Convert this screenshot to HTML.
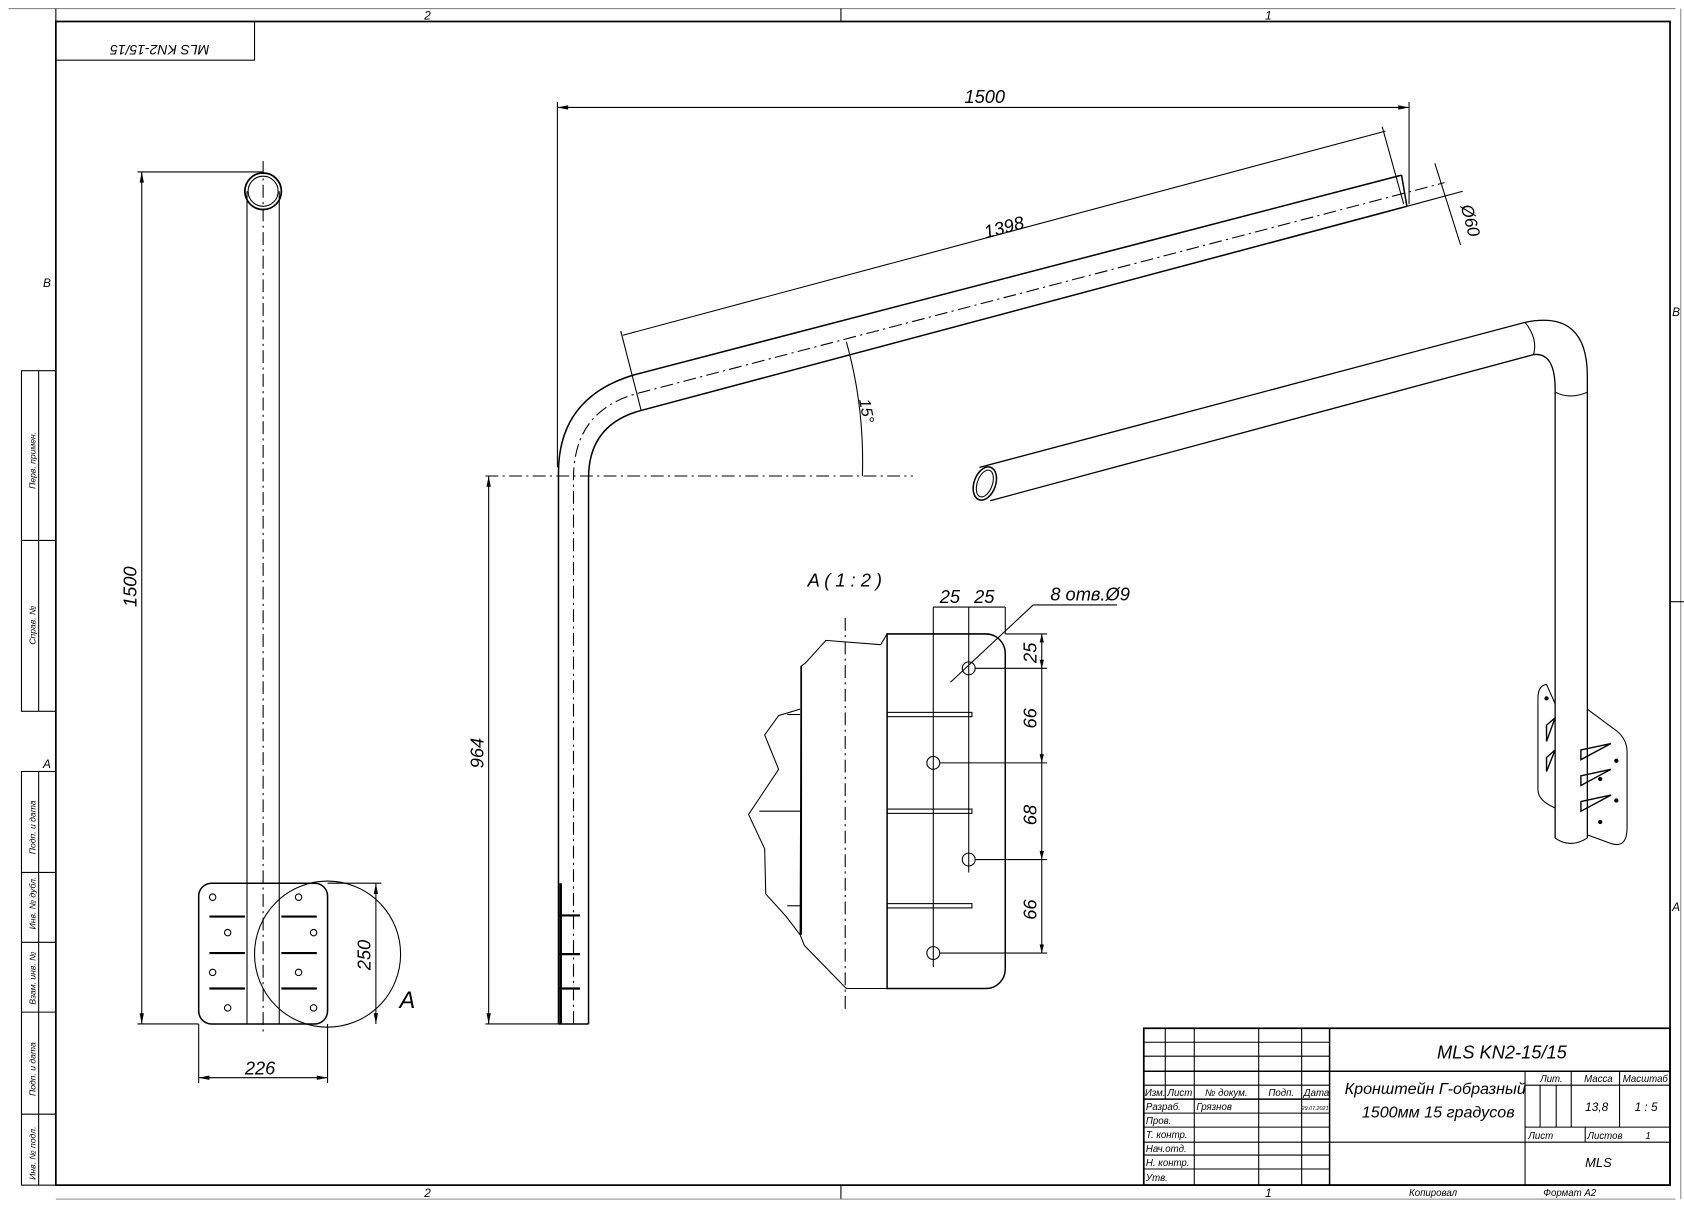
<!DOCTYPE html>
<html><head><meta charset="utf-8"><style>
html,body{margin:0;padding:0;background:#fff}
svg{display:block}
text{font-family:"Liberation Sans","DejaVu Sans",sans-serif;font-style:italic;fill:#000}
</style></head><body>
<svg width="1684" height="1212" viewBox="0 0 1568 1128" preserveAspectRatio="none" xmlns="http://www.w3.org/2000/svg">
<g fill="none" stroke="#000" stroke-width="1">
<!-- frame -->
<rect x="52" y="20" width="1503" height="1083" stroke-width="1.6"/>
<line x1="8" y1="8" x2="1560" y2="8" stroke="#888"/>
<line x1="52" y1="8" x2="52" y2="20"/>
<line x1="783" y1="8" x2="783" y2="20"/>
<line x1="783" y1="1103" x2="783" y2="1116"/>
<line x1="52" y1="1116" x2="1560" y2="1116" stroke="#888"/>
<line x1="1565" y1="8" x2="1565" y2="1116" stroke="#888"/>
<line x1="1555" y1="560" x2="1568" y2="560"/>
<!-- left stamp strips -->
<rect x="20" y="345" width="32" height="317"/>
<line x1="36" y1="345" x2="36" y2="662"/>
<line x1="20" y1="503" x2="52" y2="503"/>
<rect x="20" y="718" width="32" height="385"/>
<line x1="36" y1="718" x2="36" y2="1103"/>
<line x1="20" y1="812" x2="52" y2="812"/>
<line x1="20" y1="877" x2="52" y2="877"/>
<line x1="20" y1="942" x2="52" y2="942"/>
<line x1="20" y1="1037" x2="52" y2="1037"/>
<rect x="52" y="20" width="185" height="36"/>

<!-- LEFT VIEW -->
<line x1="230" y1="178" x2="230" y2="953"/>
<line x1="260" y1="178" x2="260" y2="953"/>
<circle cx="245" cy="178" r="17" stroke-width="1.6"/>
<circle cx="245" cy="178" r="14"/>
<rect x="185" y="822" width="120" height="131" rx="12" stroke-width="1.4"/>
<line x1="245" y1="150" x2="245" y2="960" stroke-dasharray="12 4 2 4"/>
<g stroke-width="2">
<line x1="195" y1="853" x2="228" y2="853"/><line x1="262" y1="853" x2="295" y2="853"/>
<line x1="195" y1="887" x2="228" y2="887"/><line x1="262" y1="887" x2="295" y2="887"/>
<line x1="195" y1="920" x2="228" y2="920"/><line x1="262" y1="920" x2="295" y2="920"/>
</g>
<g>
<circle cx="198" cy="835" r="3"/><circle cx="212" cy="868" r="3"/><circle cx="198" cy="905" r="3"/><circle cx="212" cy="938" r="3"/>
<circle cx="278" cy="835" r="3"/><circle cx="292" cy="868" r="3"/><circle cx="278" cy="905" r="3"/><circle cx="292" cy="938" r="3"/>
</g>
<circle cx="305" cy="888" r="68"/>
<!-- dims -->
<line x1="128" y1="160" x2="245" y2="160"/>
<line x1="128" y1="953" x2="185" y2="953"/>
<line x1="132" y1="160" x2="132" y2="953"/>
<line x1="185" y1="953" x2="185" y2="1008"/>
<line x1="305" y1="953" x2="305" y2="1008"/>
<line x1="185" y1="1003" x2="305" y2="1003"/>
<line x1="305" y1="822" x2="355" y2="822"/>
<line x1="350" y1="822" x2="350" y2="953"/>

<!-- MAIN VIEW -->
<path d="M520,953 L520,440 Q520,370 590,349 L1305,163" stroke-width="1.4"/>
<path d="M548,953 L548,445 Q548,395 597,382 L1310,192" stroke-width="1.4"/>
<line x1="1305" y1="163" x2="1310" y2="192" stroke-width="1.4"/>
<line x1="520" y1="953" x2="548" y2="953" stroke-width="1.4"/>
<path d="M534,953 L534,445 Q534,382 594,366 L1345,170" stroke-dasharray="12 4 2 4"/>
<g stroke-width="2">
<line x1="520" y1="852" x2="540" y2="852"/><line x1="520" y1="888" x2="540" y2="888"/><line x1="520" y1="920" x2="540" y2="920"/>
</g>
<line x1="522" y1="822" x2="522" y2="953" stroke-width="2.5"/>
<line x1="519" y1="95" x2="519" y2="435"/>
<line x1="1312" y1="95" x2="1312" y2="190"/>
<line x1="519" y1="100" x2="1312" y2="100"/>
<line x1="580" y1="312" x2="1290" y2="122"/>
<line x1="578" y1="308" x2="597" y2="382"/>
<line x1="1287" y1="118" x2="1307" y2="190"/>
<line x1="1310" y1="192" x2="1362" y2="178"/>
<line x1="1336" y1="152" x2="1360" y2="228"/>
<line x1="452" y1="443" x2="850" y2="443" stroke-dasharray="12 4 2 4"/>
<line x1="452" y1="953" x2="520" y2="953"/>
<line x1="455" y1="443" x2="455" y2="953"/>
<path d="M788,318 Q805,378 803,443"/>

<!-- 3D VIEW -->
<ellipse cx="917" cy="450" rx="10" ry="16" transform="rotate(20 917 450)" stroke-width="1.4"/>
<ellipse cx="917" cy="450" rx="7" ry="13" transform="rotate(20 917 450)"/>
<path d="M912,435 L1420,300 Q1478,288 1478,350 L1478,780" stroke-width="1.2"/>
<path d="M922,466 L1428,330 Q1448,328 1448,362 L1448,780" stroke-width="1.2"/>
<path d="M1420,300 Q1432,315 1428,330"/>
<path d="M1448,365 Q1462,372 1478,365"/>
<path d="M1448,780 Q1462,790 1478,780"/>
<path d="M1448,655 L1440,637 Q1432,638 1432,650 L1432,735 Q1432,745 1448,752"/>
<path d="M1478,660 L1505,680 Q1515,688 1515,700 L1515,770 Q1515,790 1500,785 L1478,777"/>
<g stroke-width="1.3">
<path d="M1472,698 L1500,692 L1472,707 Z"/>
<path d="M1472,722 L1500,716 L1472,731 Z"/>
<path d="M1472,746 L1500,740 L1472,755 Z"/>
<path d="M1440,675 L1448,668 L1440,690 Z"/>
<path d="M1440,705 L1448,698 L1440,718 Z"/>
</g>
<g fill="#000"><circle cx="1440" cy="650" r="1.5"/><circle cx="1505" cy="708" r="1.5"/><circle cx="1490" cy="725" r="1.5"/><circle cx="1505" cy="745" r="1.5"/><circle cx="1490" cy="765" r="1.5"/></g>

<!-- DETAIL A -->
<path d="M826,590 L918,590 A18,18 0 0 1 936,608 L936,902 A18,18 0 0 1 918,920 L826,920 Z" stroke-width="1.4"/>
<path d="M826,590 L820,600 L769,596 L750,617 L746,620 L745,870 L749,880 L788,920 L826,920"/>
<line x1="746" y1="620" x2="746" y2="870" stroke-width="1.6"/>
<path d="M745,660 L725,666 L712,684 L725,716 L697,758 L712,790 L713,832 L732,853 L745,870"/>
<g stroke-width="1">
<rect x="826" y="663" width="79" height="4"/><rect x="826" y="753" width="79" height="4"/><rect x="826" y="841" width="79" height="4"/>
<line x1="733" y1="665" x2="745" y2="665"/><line x1="707" y1="755" x2="745" y2="755"/><line x1="733" y1="843" x2="745" y2="843"/>
</g>
<line x1="787" y1="575" x2="787" y2="942" stroke-dasharray="12 4 2 4"/>
<circle cx="902" cy="622" r="6"/><circle cx="869" cy="710" r="6"/><circle cx="902" cy="800" r="6"/><circle cx="869" cy="887" r="6"/>
<line x1="869" y1="565" x2="869" y2="900"/>
<line x1="902" y1="565" x2="902" y2="812"/>
<line x1="936" y1="565" x2="936" y2="590"/>
<line x1="869" y1="565" x2="936" y2="565"/>
<line x1="885" y1="635" x2="962" y2="563"/>
<line x1="962" y1="563" x2="1040" y2="563"/>
<line x1="936" y1="590" x2="975" y2="590"/>
<line x1="908" y1="622" x2="975" y2="622"/>
<line x1="875" y1="710" x2="975" y2="710"/>
<line x1="908" y1="800" x2="975" y2="800"/>
<line x1="875" y1="887" x2="975" y2="887"/>
<line x1="970" y1="590" x2="970" y2="887"/>

<!-- TITLE BLOCK -->
<rect x="1065" y="957" width="490" height="146" stroke-width="1.6"/>
<line x1="1085" y1="957" x2="1085" y2="1023"/>
<line x1="1112" y1="957" x2="1112" y2="1103"/>
<line x1="1172" y1="957" x2="1172" y2="1103"/>
<line x1="1212" y1="957" x2="1212" y2="1103"/>
<line x1="1238" y1="957" x2="1238" y2="1103" stroke-width="1.4"/>
<line x1="1065" y1="970" x2="1238" y2="970"/>
<line x1="1065" y1="983" x2="1238" y2="983"/>
<line x1="1065" y1="997" x2="1555" y2="997" stroke-width="1.4"/>
<line x1="1065" y1="1010" x2="1238" y2="1010"/>
<line x1="1065" y1="1023" x2="1238" y2="1023" stroke-width="1.4"/>
<line x1="1065" y1="1036" x2="1238" y2="1036"/>
<line x1="1065" y1="1049" x2="1238" y2="1049"/>
<line x1="1065" y1="1063" x2="1238" y2="1063"/>
<line x1="1065" y1="1075" x2="1238" y2="1075"/>
<line x1="1065" y1="1088" x2="1238" y2="1088"/>
<line x1="1420" y1="997" x2="1420" y2="1103"/>
<line x1="1420" y1="1010" x2="1555" y2="1010"/>
<line x1="1238" y1="1063" x2="1555" y2="1063"/>
<line x1="1420" y1="1049" x2="1555" y2="1049"/>
<line x1="1463" y1="997" x2="1463" y2="1049"/>
<line x1="1508" y1="997" x2="1508" y2="1049"/>
<line x1="1476" y1="1049" x2="1476" y2="1063"/>
<line x1="1434" y1="1010" x2="1434" y2="1049"/>
<line x1="1449" y1="1010" x2="1449" y2="1049"/>
</g>

<!-- arrowheads (small) -->
<g fill="#000">
<path d="M132,160 l-2,10 h4z"/><path d="M132,953 l-2,-10 h4z"/>
<path d="M185,1003 l10,-2 v4z"/><path d="M305,1003 l-10,-2 v4z"/>
<path d="M350,822 l-2,10 h4z"/><path d="M350,953 l-2,-10 h4z"/>
<path d="M519,100 l10,-2 v4z"/><path d="M1312,100 l-10,-2 v4z"/>
<path d="M455,443 l-2,10 h4z"/><path d="M455,953 l-2,-10 h4z"/>
<path d="M970,590 l-2,8 h4z"/><path d="M970,622 l-2,-8 h4z"/><path d="M970,710 l-2,-8 h4z"/><path d="M970,800 l-2,-8 h4z"/><path d="M970,887 l-2,-8 h4z"/>
</g>

<!-- TEXT -->
<g font-size="14">
<text x="395" y="18" font-size="11">2</text><text x="1178" y="18" font-size="11">1</text>
<text x="395" y="1114" font-size="11">2</text><text x="1178" y="1114" font-size="11">1</text>
<text x="40" y="267" font-size="11">B</text><text x="1557" y="294" font-size="11">B</text>
<text x="40" y="715" font-size="11">A</text><text x="1557" y="848" font-size="11">A</text>
<text transform="translate(195,42) rotate(180)" font-size="13" x="0" y="0">MLS KN2-15/15</text>
<text transform="translate(127,565) rotate(-90)" font-size="17">1500</text>
<text x="228" y="1000" font-size="17">226</text>
<text transform="translate(345,903) rotate(-90)" font-size="17">250</text>
<text x="372" y="938" font-size="22">A</text>
<text x="898" y="96" font-size="17">1500</text>
<text transform="translate(918,222) rotate(-15)" font-size="17">1398</text>
<text transform="translate(1360,192) rotate(75)" font-size="16">Ø60</text>
<text transform="translate(800,372) rotate(80)" font-size="15">15°</text>
<text transform="translate(450,715) rotate(-90)" font-size="17">964</text>
<text x="752" y="546" font-size="17">A ( 1 : 2 )</text>
<text x="875" y="561" font-size="17">25</text><text x="907" y="561" font-size="17">25</text>
<text x="978" y="559" font-size="17">8 отв.Ø9</text>
<text transform="translate(965,617) rotate(-90)" font-size="17">25</text>
<text transform="translate(965,678) rotate(-90)" font-size="17">66</text>
<text transform="translate(965,768) rotate(-90)" font-size="17">68</text>
<text transform="translate(965,856) rotate(-90)" font-size="17">66</text>
<text x="1338" y="985" font-size="17">MLS KN2-15/15</text>
<text x="1252" y="1018" font-size="15">Кронштейн Г-образный</text>
<text x="1268" y="1040" font-size="15">1500мм 15 градусов</text>
<g font-size="9">
<text x="1066" y="1020">Изм.</text><text x="1087" y="1020">Лист</text><text x="1122" y="1020">№ докум.</text><text x="1181" y="1020">Подп.</text><text x="1214" y="1020">Дата</text>
<text x="1067" y="1033">Разраб.</text><text x="1114" y="1033">Грязнов</text><text x="1212" y="1033" font-size="5">29.07.2021</text>
<text x="1067" y="1046">Пров.</text><text x="1067" y="1059">Т. контр.</text><text x="1067" y="1072">Нач.отд.</text><text x="1067" y="1085">Н. контр.</text><text x="1067" y="1099">Утв.</text>
<text x="1434" y="1007">Лит.</text><text x="1475" y="1007">Масса</text><text x="1511" y="1007">Масштаб</text>
<text x="1423" y="1060">Лист</text><text x="1478" y="1060">Листов</text><text x="1532" y="1060">1</text>
<text x="1312" y="1113">Копировал</text><text x="1437" y="1113">Формат А2</text>
</g>
<text x="1476" y="1034" font-size="11">13,8</text><text x="1522" y="1034" font-size="11">1 : 5</text>
<text x="1476" y="1086" font-size="12">MLS</text>
<g font-size="8">
<text transform="translate(33,455) rotate(-90)">Перв. примен.</text>
<text transform="translate(33,600) rotate(-90)">Справ. №</text>
<text transform="translate(33,795) rotate(-90)">Подп. и дата</text>
<text transform="translate(33,865) rotate(-90)">Инв. № дубл.</text>
<text transform="translate(33,935) rotate(-90)">Взам. инв. №</text>
<text transform="translate(33,1020) rotate(-90)">Подп. и дата</text>
<text transform="translate(33,1098) rotate(-90)">Инв. № подл.</text>
</g>
</g>
</svg>
</body></html>
